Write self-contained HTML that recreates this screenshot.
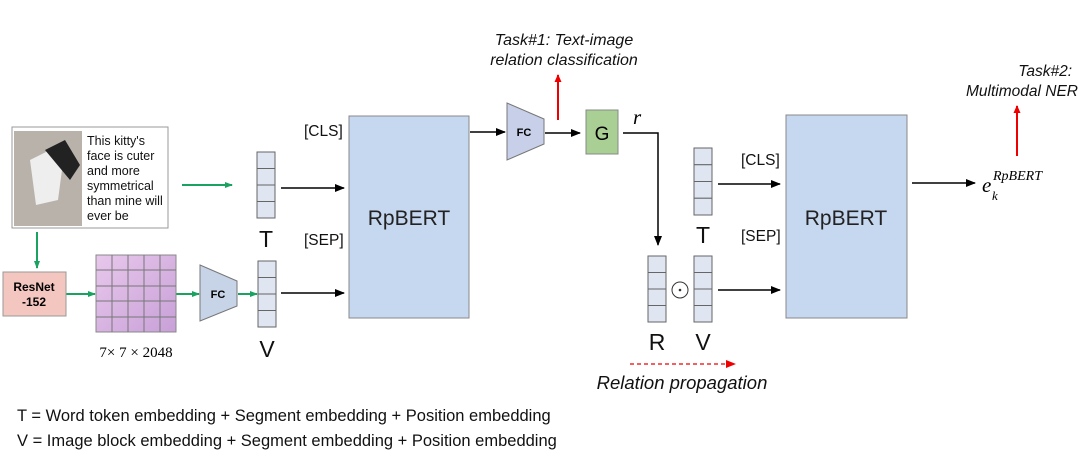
<!DOCTYPE html>
<html><head><style>body{margin:0;background:#fff}svg{display:block}</style></head><body>
<svg width="1080" height="474" viewBox="0 0 1080 474" xmlns="http://www.w3.org/2000/svg" font-family="Liberation Sans, sans-serif">
<defs>
<marker id="ab" markerWidth="10" markerHeight="8" refX="9" refY="4" orient="auto" markerUnits="userSpaceOnUse"><path d="M0,0L10,4L0,8z" fill="#000"/></marker>
<marker id="ag" markerWidth="8" markerHeight="6" refX="7" refY="3" orient="auto" markerUnits="userSpaceOnUse"><path d="M0,0L8,3L0,6z" fill="#1aa260"/></marker>
<marker id="ar" markerWidth="8" markerHeight="7" refX="7" refY="3.5" orient="auto" markerUnits="userSpaceOnUse"><path d="M0,0L8,3.5L0,7z" fill="#e00"/></marker>
<linearGradient id="pk" x1="0" y1="0" x2="1" y2="1"><stop offset="0" stop-color="#e8c8ec"/><stop offset="1" stop-color="#c8a0d8"/></linearGradient>
</defs>
<rect x="12" y="127" width="156" height="101" fill="#fff" stroke="#999"/>
<rect x="14" y="131" width="68" height="95" fill="#b8b2aa"/>
<path d="M30,160 L50,150 L62,170 L58,200 L36,205 Z" fill="#eee"/>
<path d="M45,150 L65,140 L80,165 L70,180 Z" fill="#222"/>
<g font-size="12.5" fill="#111">
<text x="87" y="145">This kitty's</text><text x="87" y="160">face is cuter</text><text x="87" y="175">and more</text><text x="87" y="190">symmetrical</text><text x="87" y="205">than mine will</text><text x="87" y="220">ever be</text></g>
<g stroke="#1aa260" stroke-width="2" fill="none" marker-end="url(#ag)">
<line x1="182" y1="185" x2="232" y2="185"/>
<line x1="37" y1="232" x2="37" y2="268"/>
<line x1="66" y1="294" x2="95" y2="294"/>
<line x1="176" y1="294" x2="199" y2="294"/>
<line x1="238" y1="294" x2="257" y2="294"/>
</g>
<rect x="3" y="272" width="63" height="44" fill="#f3c6c0" stroke="#999"/>
<text x="34" y="291" font-size="12" font-weight="bold" text-anchor="middle">ResNet</text>
<text x="34" y="306" font-size="12" font-weight="bold" text-anchor="middle">-152</text>
<rect x="96" y="255" width="80" height="77" fill="url(#pk)" stroke="#888"/>
<g stroke="#777" stroke-width="1">
<line x1="112" y1="255" x2="112" y2="332"/><line x1="128" y1="255" x2="128" y2="332"/><line x1="144" y1="255" x2="144" y2="332"/><line x1="160" y1="255" x2="160" y2="332"/>
<line x1="96" y1="270" x2="176" y2="270"/><line x1="96" y1="286" x2="176" y2="286"/><line x1="96" y1="301" x2="176" y2="301"/><line x1="96" y1="317" x2="176" y2="317"/></g>
<text x="136" y="357" font-size="15" font-family="Liberation Serif, serif" text-anchor="middle">7× 7 × 2048</text>
<path d="M200,265 L237,281 L237,306 L200,321 Z" fill="#c7d4e8" stroke="#777"/>
<text x="218" y="298" font-size="11" font-weight="bold" text-anchor="middle">FC</text>
<g fill="#dfe6f2" stroke="#666">
<rect x="257" y="152" width="18" height="16.5"/><rect x="257" y="168.5" width="18" height="16.5"/><rect x="257" y="185" width="18" height="16.5"/><rect x="257" y="201.5" width="18" height="16.5"/>
<rect x="258" y="261" width="18" height="16.5"/><rect x="258" y="277.5" width="18" height="16.5"/><rect x="258" y="294" width="18" height="16.5"/><rect x="258" y="310.5" width="18" height="16.5"/>
<rect x="694" y="148" width="18" height="16.75"/><rect x="694" y="164.75" width="18" height="16.75"/><rect x="694" y="181.5" width="18" height="16.75"/><rect x="694" y="198.25" width="18" height="16.75"/>
<rect x="648" y="256" width="18" height="16.5"/><rect x="648" y="272.5" width="18" height="16.5"/><rect x="648" y="289" width="18" height="16.5"/><rect x="648" y="305.5" width="18" height="16.5"/>
<rect x="694" y="256" width="18" height="16.5"/><rect x="694" y="272.5" width="18" height="16.5"/><rect x="694" y="289" width="18" height="16.5"/><rect x="694" y="305.5" width="18" height="16.5"/>
</g>
<g font-size="23" text-anchor="middle" fill="#111">
<text x="266" y="247">T</text><text x="267" y="357">V</text>
<text x="703" y="243">T</text><text x="657" y="350">R</text><text x="703" y="350">V</text></g>
<circle cx="680" cy="290" r="8" fill="none" stroke="#333"/><circle cx="680" cy="290" r="1.3" fill="#333"/>
<rect x="349" y="116" width="120" height="202" fill="#c6d7f0" stroke="#888"/>
<text x="409" y="225" font-size="21" text-anchor="middle" fill="#222">RpBERT</text>
<rect x="786" y="115" width="121" height="203" fill="#c6d7f0" stroke="#888"/>
<text x="846" y="225" font-size="21" text-anchor="middle" fill="#222">RpBERT</text>
<g font-size="15.5" fill="#111">
<text x="304" y="136">[CLS]</text><text x="304" y="245">[SEP]</text>
<text x="741" y="165">[CLS]</text><text x="741" y="241">[SEP]</text></g>
<g stroke="#000" stroke-width="1.5" fill="none" marker-end="url(#ab)">
<line x1="281" y1="188" x2="344" y2="188"/>
<line x1="281" y1="293" x2="344" y2="293"/>
<line x1="470" y1="132" x2="505" y2="132"/>
<line x1="545" y1="133" x2="580" y2="133"/>
<polyline points="623,133 658,133 658,245"/>
<line x1="718" y1="184" x2="780" y2="184"/>
<line x1="718" y1="290" x2="780" y2="290"/>
<line x1="912" y1="183" x2="975" y2="183"/>
</g>
<path d="M507,103 L544,119 L544,144 L507,160 Z" fill="#c7d0e8" stroke="#777"/>
<text x="524" y="136" font-size="11" font-weight="bold" text-anchor="middle">FC</text>
<rect x="586" y="110" width="32" height="44" fill="#a9cf94" stroke="#888"/>
<text x="602" y="140" font-size="19" text-anchor="middle">G</text>
<text x="633" y="124" font-size="21" font-style="italic" font-family="Liberation Serif, serif">r</text>
<g stroke="#e00" stroke-width="2" fill="none" marker-end="url(#ar)">
<line x1="558" y1="120" x2="558" y2="75"/>
<line x1="1017" y1="156" x2="1017" y2="106"/>
</g>
<line x1="630" y1="364" x2="728" y2="364" stroke="#e00" stroke-width="1.3" stroke-dasharray="4,3"/>
<path d="M726,360 L736,364 L726,368z" fill="#e00"/>
<g font-size="16" font-style="italic" text-anchor="middle" fill="#111">
<text x="564" y="45">Task#1: Text-image</text><text x="564" y="65">relation classification</text></g>
<g font-size="15.5" font-style="italic" text-anchor="end" fill="#111">
<text x="1072" y="76">Task#2:</text><text x="1078" y="96">Multimodal NER</text></g>
<text x="682" y="389" font-size="18.5" font-style="italic" text-anchor="middle" fill="#111">Relation propagation</text>
<text x="982" y="192" font-size="21" font-style="italic" font-family="Liberation Serif, serif">e</text>
<text x="992" y="200" font-size="13" font-style="italic" font-family="Liberation Serif, serif">k</text>
<text x="993" y="180" font-size="14" font-style="italic" font-family="Liberation Serif, serif">RpBERT</text>
<g font-size="16.5" fill="#111">
<text x="17" y="421">T = Word token embedding + Segment embedding + Position embedding</text>
<text x="17" y="446">V = Image block embedding + Segment embedding + Position embedding</text></g>
</svg>
</body></html>
